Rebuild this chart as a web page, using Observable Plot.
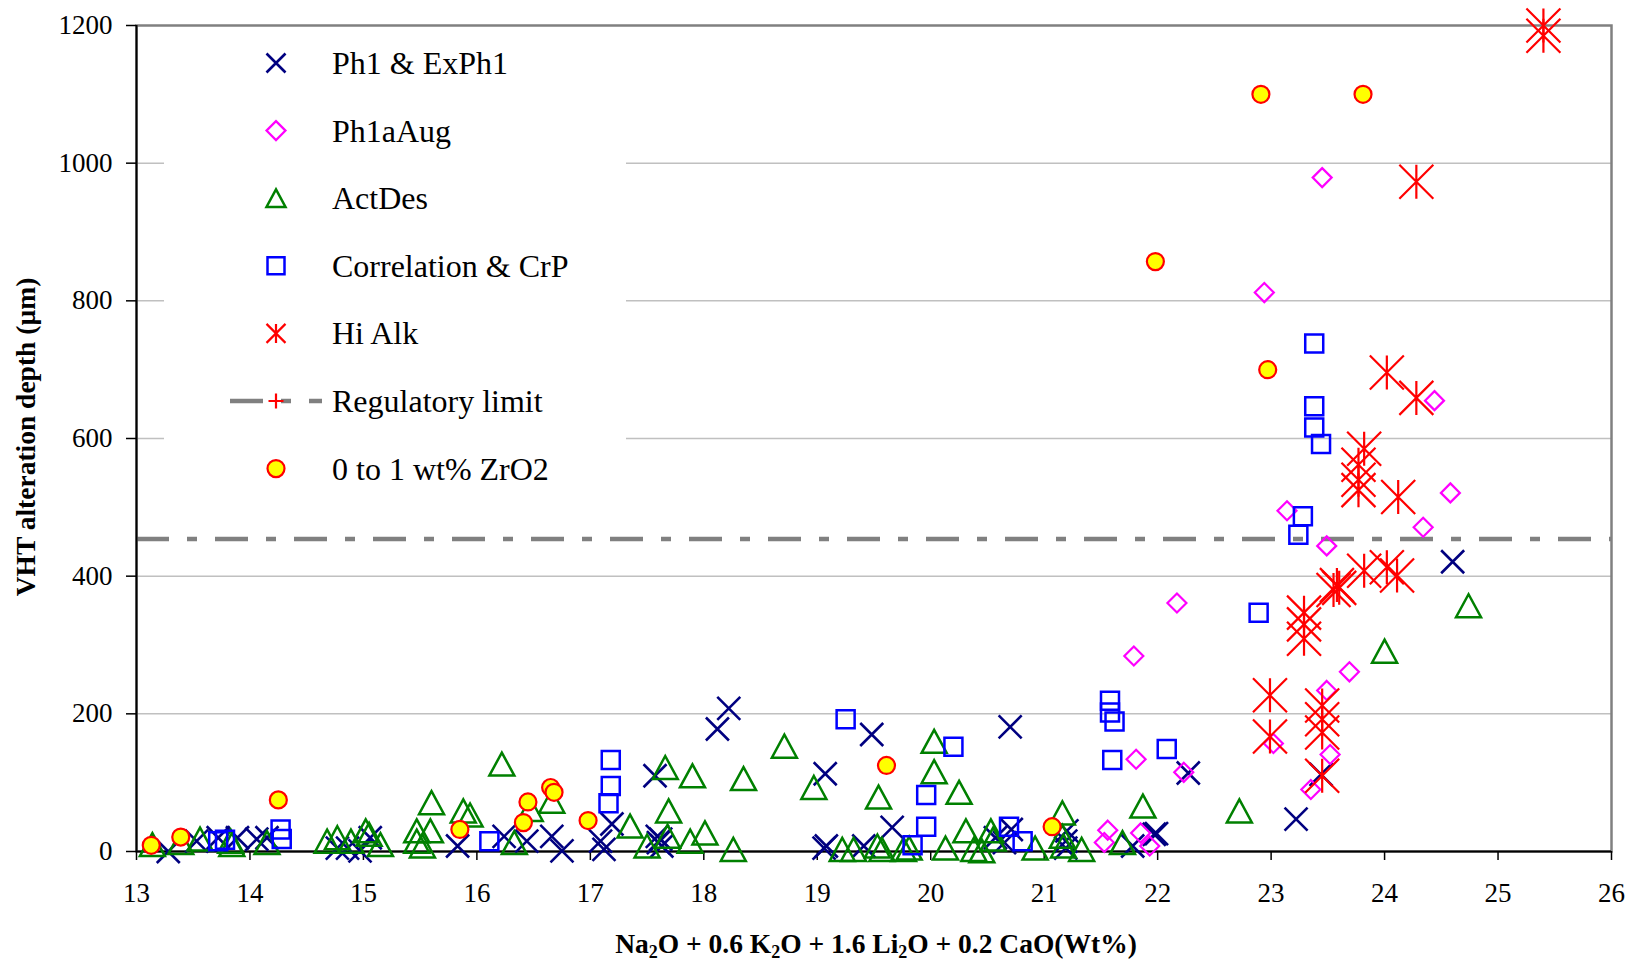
<!DOCTYPE html>
<html>
<head>
<meta charset="utf-8">
<script src="https://cdn.jsdelivr.net/npm/d3@7"></script>
<script src="https://cdn.jsdelivr.net/npm/@observablehq/plot@0.6"></script>
<style>
  html, body { margin: 0; padding: 0; background: #fff; }
  #chart svg { display: block; }
</style>
</head>
<body>
<div id="chart"></div>
<script>
// Alkali index (wt%) vs. VHT alteration depth (µm), one array of [index, depth] per glass family.
const ph1 = [[13.28,0],[13.53,15],[13.72,20],[13.89,20],[14.06,18],[14.15,20],[14.77,5],[14.86,5],[14.97,1],[15.06,20],[15.83,8],[16.24,22],[16.44,15],[16.66,22],[16.75,1],[17.09,15],[17.12,3],[17.19,40],[17.57,110],[17.59,22],[17.6,13],[17.62,18],[17.63,8],[18.12,178],[18.22,208],[19.06,5],[19.08,8],[19.07,113],[19.41,8],[19.48,170],[19.66,35],[20.57,20],[20.65,13],[20.7,181],[20.71,32],[21.19,15],[21.19,5],[21.2,30],[21.78,8],[21.97,25],[21.99,26],[22.27,114],[23.22,47],[23.44,112],[24.6,421]];
const ph1aAug = [[21.53,13],[21.56,31],[21.85,27],[21.93,8],[21.79,284],[21.81,134],[22.17,361],[22.23,115],[22.94,812],[23.02,157],[23.14,495],[23.35,90],[23.45,979],[23.49,444],[23.49,234],[23.52,141],[23.69,261],[24.34,471],[24.44,655],[24.58,521]];
const actDes = [[13.14,10],[13.39,13],[13.56,18],[13.83,15],[13.84,10],[14.15,13],[14.68,15],[14.77,20],[14.89,15],[15.02,30],[15.05,25],[15.15,10],[15.47,30],[15.47,15],[15.52,8],[15.59,30],[15.6,71],[15.88,59],[15.94,53],[16.22,127],[16.33,13],[16.47,61],[16.66,73],[17.35,37],[17.5,8],[17.66,122],[17.68,22],[17.69,59],[17.88,15],[17.9,110],[18.01,27],[18.26,3],[18.35,106],[18.71,153],[18.97,93],[19.22,3],[19.32,3],[19.53,8],[19.54,79],[19.57,3],[19.76,3],[19.81,5],[20.03,160],[20.03,116],[20.13,5],[20.25,86],[20.31,30],[20.38,3],[20.45,1],[20.53,30],[20.55,18],[20.92,5],[21.16,56],[21.16,22],[21.17,8],[21.33,3],[21.69,13],[21.87,66],[22.72,59],[24.0,291],[24.74,357]];
const correlation = [[13.72,15],[13.78,17],[14.27,32],[14.28,18],[16.11,15],[17.16,70],[17.18,95],[17.18,133],[19.25,192],[19.84,9],[19.96,36],[19.96,82],[20.2,152],[20.69,36],[20.81,15],[21.58,219],[21.58,202],[21.62,189],[21.6,133],[22.08,149],[22.89,347],[23.24,460],[23.28,487],[23.38,738],[23.38,647],[23.38,616],[23.44,592]];
const hiAlk = [[25.4,1200],[25.4,1185],[24.28,973],[24.02,696],[24.28,659],[23.82,585],[23.77,562],[23.77,540],[23.77,525],[24.12,515],[23.82,408],[24.02,413],[24.11,401],[23.55,380],[23.58,387],[23.6,383],[23.29,347],[23.29,330],[23.29,309],[22.99,227],[22.99,167],[23.45,212],[23.45,192],[23.45,173],[23.45,110]];
const zro2 = [[13.13,9],[13.39,21],[14.25,75],[15.85,32],[16.41,42],[16.45,72],[16.65,93],[16.68,86],[16.98,45],[19.61,125],[21.07,36],[21.98,857],[22.91,1100],[22.97,700],[23.81,1100]];
const regulatoryLimit = 454;

const legendLabels = ["Ph1 & ExPh1", "Ph1aAug", "ActDes", "Correlation & CrP", "Hi Alk", "Regulatory limit", "0 to 1 wt% ZrO2"];
const xTicks = [13, 14, 15, 16, 17, 18, 19, 20, 21, 22, 23, 24, 25, 26];
const yTicks = [0, 200, 400, 600, 800, 1000, 1200];
const yGrid = [200, 400, 600, 800, 1000];

// Marker shapes; r is the half-extent of the marker in pixels.
const rad = (size) => Math.sqrt(size / Math.PI);
const symCross = {draw(c, size) { const r = rad(size); c.moveTo(-r, -r); c.lineTo(r, r); c.moveTo(-r, r); c.lineTo(r, -r); }};
const symStar = {draw(c, size) { const r = rad(size); c.moveTo(-r, -r); c.lineTo(r, r); c.moveTo(-r, r); c.lineTo(r, -r); c.moveTo(0, -r); c.lineTo(0, r); }};
const symTriangle = {draw(c, size) { const r = rad(size), h = r * 0.92; c.moveTo(0, -h); c.lineTo(r, h); c.lineTo(-r, h); c.closePath(); }};
const symSquare = {draw(c, size) { const r = rad(size); c.moveTo(-r, -r); c.lineTo(r, -r); c.lineTo(r, r); c.lineTo(-r, r); c.closePath(); }};
const symDiamond = {draw(c, size) { const r = rad(size); c.moveTo(0, -r); c.lineTo(r, 0); c.lineTo(0, r); c.lineTo(-r, 0); c.closePath(); }};
const symCircle = {draw(c, size) { const r = rad(size); c.moveTo(r, 0); c.arc(0, 0, r, 0, 2 * Math.PI); }};
const symPlus = {draw(c, size) { const r = rad(size); c.moveTo(-r, 0); c.lineTo(r, 0); c.moveTo(0, -r); c.lineTo(0, r); }};

const styles = [
  {symbol: symCross, stroke: "#000080", fill: "none", strokeWidth: 2.6, r: 11.5, lr: 9.5},
  {symbol: symDiamond, stroke: "#ff00ff", fill: "none", strokeWidth: 2.2, r: 9.5, lr: 9.5},
  {symbol: symTriangle, stroke: "#008000", fill: "none", strokeWidth: 2.5, r: 12.5, lr: 9.5},
  {symbol: symSquare, stroke: "#0000ff", fill: "none", strokeWidth: 2.5, r: 9, lr: 8.5},
  {symbol: symStar, stroke: "#ff0000", fill: "none", strokeWidth: 2.2, r: 17, lr: 9.5},
  null,
  {symbol: symCircle, stroke: "#ff0000", fill: "#ffff00", strokeWidth: 2.2, r: 8.5, lr: 8.5}
];
const seriesData = [ph1, ph1aAug, actDes, correlation, hiAlk, null, zro2];
const limitStyle = {stroke: "#808080", strokeWidth: 4.5, strokeDasharray: "33,18,10,18"};

const dotMarks = seriesData.map((data, i) => data && Plot.dot(data, {
  x: d => d[0], y: d => d[1],
  symbol: styles[i].symbol, r: styles[i].r,
  stroke: styles[i].stroke, fill: styles[i].fill, strokeWidth: styles[i].strokeWidth
})).filter(Boolean);

const chart = Plot.plot({
  width: 1629,
  height: 961,
  marginLeft: 136,
  marginRight: 18,
  marginTop: 25,
  marginBottom: 110,
  style: {fontFamily: '"Liberation Serif", "Times New Roman", serif', fontSize: "27px", color: "black", background: "white"},
  x: {domain: [13, 26]},
  y: {domain: [0, 1200]},
  marks: [
    Plot.gridY(yGrid, {stroke: "#c0c0c0", strokeOpacity: 1, strokeWidth: 1.5}),
    Plot.frame({stroke: "#808080", strokeWidth: 2.5}),
    Plot.ruleY([regulatoryLimit], limitStyle),
    Plot.ruleX([13], {stroke: "black", strokeWidth: 2}),
    Plot.ruleY([0], {stroke: "black", strokeWidth: 2}),
    Plot.axisY(yTicks, {tickSize: 10, tickPadding: 14, fontSize: 27, stroke: "black", strokeWidth: 1.5, label: null, tickFormat: d => String(d)}),
    Plot.axisX(xTicks, {tickSize: 9, tickPadding: 22, fontSize: 27, stroke: "black", strokeWidth: 1.5, label: null, tickFormat: d => String(d)}),
    ...dotMarks
  ]
});

document.getElementById("chart").appendChild(chart);

// Legend panel and axis titles
const svg = d3.select(chart);
const legend = svg.append("g").attr("class", "legend");
legend.append("rect").attr("x", 164).attr("y", 27).attr("width", 462).attr("height", 478).attr("fill", "white");
legendLabels.forEach((label, i) => {
  const cy = 63 + i * 67.6;
  const row = legend.append("g").attr("transform", `translate(0,${cy})`);
  if (styles[i]) {
    const p = d3.path();
    styles[i].symbol.draw(p, Math.PI * styles[i].lr * styles[i].lr);
    row.append("path").attr("transform", "translate(276,0)").attr("d", p.toString())
      .attr("fill", styles[i].fill).attr("stroke", styles[i].stroke).attr("stroke-width", styles[i].strokeWidth);
  } else {
    row.append("line").attr("x1", 230).attr("x2", 322).attr("y1", 0).attr("y2", 0)
      .attr("stroke", limitStyle.stroke).attr("stroke-width", limitStyle.strokeWidth).attr("stroke-dasharray", limitStyle.strokeDasharray);
    const p = d3.path();
    symPlus.draw(p, Math.PI * 7.5 * 7.5);
    row.append("path").attr("transform", "translate(276,0)").attr("d", p.toString())
      .attr("fill", "none").attr("stroke", "#ff0000").attr("stroke-width", 2.2);
  }
  row.append("text").attr("x", 332).attr("y", 11).attr("text-anchor", "start")
    .attr("font-size", 32).attr("fill", "black").text(label);
});

const xTitle = svg.append("text").attr("x", 876).attr("y", 953).attr("text-anchor", "middle")
  .attr("font-size", 27.5).attr("font-weight", "bold").attr("fill", "black");
const parts = [["Na"], ["2", true], ["O + 0.6 K"], ["2", true], ["O + 1.6 Li"], ["2", true], ["O + 0.2 CaO(Wt%)"]];
parts.forEach(([t, sub]) => {
  const ts = xTitle.append("tspan").text(t);
  if (sub) ts.attr("font-size", 18).attr("baseline-shift", "-25%");
});

svg.append("text").attr("transform", "translate(35,437) rotate(-90)").attr("text-anchor", "middle")
  .attr("font-size", 27.5).attr("font-weight", "bold").attr("fill", "black").text("VHT alteration depth (µm)");
</script>
</body>
</html>
